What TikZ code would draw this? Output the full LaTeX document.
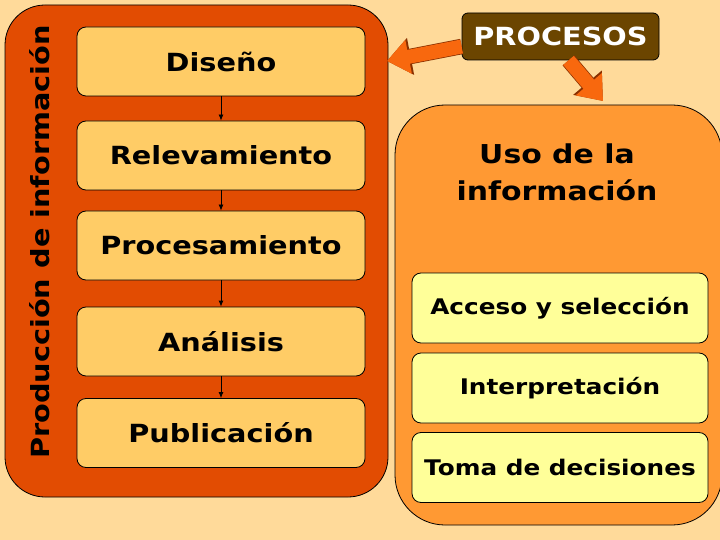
\documentclass[tikz,border=0pt]{standalone}
\usepackage{fontspec}
\setmainfont{DejaVu Sans}[FakeStretch=1.15]
\usetikzlibrary{calc,positioning}
\usetikzlibrary{arrows.meta}
\definecolor{fondo}{HTML}{FFDA9A}
\definecolor{rojizo}{HTML}{E24C02}
\definecolor{etapacol}{HTML}{FFCC66}
\definecolor{naranjaclaro}{HTML}{FF9933}
\definecolor{amarillo}{HTML}{FFFF99}
\definecolor{marron}{HTML}{6B4500}
\definecolor{naranja}{HTML}{F8680E}
\definecolor{borde}{HTML}{8A3000}
\tikzstyle{caja}=[draw, line width=0.8pt, rounded corners=9pt]
\tikzstyle{etapa} = [caja, fill=etapacol, minimum width=288pt, minimum height=69pt,
font=\fontsize{25}{30}\selectfont\bfseries]
\tikzstyle{tarea} = [caja, fill=amarillo, minimum width=296pt, minimum height=70pt,
font=\fontsize{21.5}{26}\selectfont\bfseries]
\tikzstyle{flecha}=[-{Latex[length=6pt,width=5pt]}, line width=0.8pt]
\tikzstyle{gruesa}=[-{Triangle[length=22pt,width=33pt]}, line width=14pt, draw=naranja,
preaction={draw=borde, line width=15.5pt, -{Triangle[length=24pt,width=36pt]}}]

\begin{document}
\begin{tikzpicture}[x=1pt,y=-1pt]
\useasboundingbox[fill=fondo] (0,0) rectangle (720,540);

\node (produccion) [draw, line width=0.8pt, fill=rojizo, rounded corners=40pt, minimum width=383pt, minimum height=492pt] at (196.5,251) {};
\node (titulo) [rotate=90, font=\fontsize{25}{30}\selectfont\bfseries] at (40,242) {Producción de información};

\node (diseno) [etapa] at (221,61.5) {Diseño};
\node (relev) [yshift=-94pt] at (diseno) [etapa] {Relevamiento};
\node (proces) [yshift=-90pt] at (relev) [etapa] {Procesamiento};
\node (analisis) [yshift=-96pt] at (proces) [etapa] {Análisis};
\node (public) [yshift=-91.5pt] at (analisis) [etapa] {Publicación};

\draw [flecha] (diseno) -- (relev);
\draw [flecha] (relev) -- (proces);
\draw [flecha] (proces) -- (analisis);
\draw [flecha] (analisis) -- (public);

\node (usofondo) [draw, line width=0.8pt, fill=naranjaclaro, rounded corners=50pt, minimum width=327pt, minimum height=420pt] at (558.5,315) {};
\node (uso) [align=center, font=\fontsize{26}{37}\selectfont\bfseries] at (557,172) {Uso de la\\información};
\node (acceso) [tarea] at (560,308) {Acceso y selección};
\node (interp) [yshift=-80pt] at (acceso) [tarea] {Interpretación};
\node (toma) [yshift=-79.5pt] at (interp) [tarea] {Toma de decisiones};

\node (procesos) [draw, line width=0.8pt, fill=marron, text=white, rounded corners=6pt, minimum width=197pt, minimum height=47pt, font=\fontsize{25}{30}\selectfont\bfseries] at (560.5,36.5) {PROCESOS};
\coordinate (puntaA) at (387,61);
\coordinate (puntaB) at (603,101);
\draw [gruesa] ($(procesos.west)+(0,10)$) -- (puntaA);
\draw [gruesa] ($(procesos.south)+(8,0)$) -- (puntaB);
\end{tikzpicture}
\end{document}
